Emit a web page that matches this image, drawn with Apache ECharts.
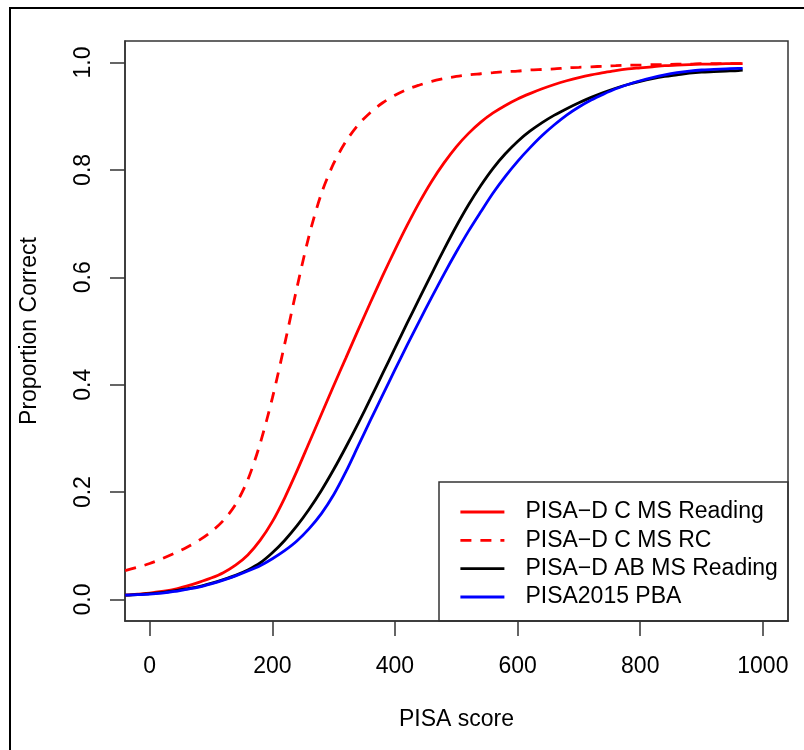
<!DOCTYPE html>
<html>
<head>
<meta charset="utf-8">
<script src="https://cdn.jsdelivr.net/npm/echarts@6/dist/echarts.min.js"></script>
<style>
html,body{margin:0;padding:0;background:#fff;}
#chart{width:804px;height:750px;}
</style>
</head>
<body>
<div id="chart"></div>
<script>
// PISA scores at which each curve was read
const scores = [-40,-20,0,20,40,60,80,100,120,140,160,180,200,220,240,260,280,300,320,340,360,380,400,420,440,460,480,500,520,540,560,580,600,620,640,660,680,700,720,740,760,780,800,820,840,860,880,900,920,940,960,967];

const cReading = [0.008,0.010,0.012,0.015,0.019,0.025,0.032,0.040,0.050,0.064,0.083,0.110,0.145,0.189,0.239,0.292,0.345,0.398,0.450,0.502,0.553,0.603,0.651,0.697,0.740,0.779,0.813,0.843,0.868,0.889,0.906,0.920,0.932,0.942,0.951,0.959,0.966,0.972,0.977,0.981,0.985,0.988,0.990,0.992,0.994,0.995,0.996,0.997,0.997,0.998,0.998,0.998];

const cRC = [0.054,0.060,0.067,0.076,0.086,0.097,0.110,0.126,0.147,0.177,0.223,0.290,0.375,0.475,0.580,0.678,0.756,0.812,0.853,0.884,0.907,0.925,0.939,0.950,0.958,0.965,0.970,0.974,0.977,0.979,0.981,0.983,0.984,0.986,0.987,0.988,0.990,0.991,0.992,0.993,0.994,0.995,0.995,0.996,0.996,0.997,0.997,0.998,0.998,0.998,0.998,0.998];

const abReading = [0.008,0.009,0.011,0.013,0.016,0.020,0.024,0.030,0.037,0.045,0.055,0.068,0.087,0.110,0.137,0.168,0.203,0.242,0.284,0.328,0.374,0.421,0.468,0.515,0.561,0.607,0.652,0.695,0.735,0.771,0.803,0.830,0.853,0.872,0.888,0.902,0.914,0.925,0.935,0.944,0.952,0.959,0.965,0.970,0.974,0.977,0.980,0.982,0.983,0.984,0.985,0.986];

const pisa2015 = [0.008,0.009,0.010,0.012,0.015,0.019,0.023,0.029,0.036,0.044,0.053,0.063,0.076,0.091,0.109,0.132,0.160,0.195,0.238,0.286,0.334,0.381,0.428,0.474,0.519,0.563,0.606,0.647,0.686,0.722,0.757,0.788,0.816,0.841,0.864,0.884,0.902,0.917,0.930,0.941,0.951,0.959,0.966,0.972,0.977,0.981,0.984,0.986,0.987,0.988,0.989,0.989];

const seriesNames = ['PISA\u2212D C MS Reading','PISA\u2212D C MS RC','PISA\u2212D AB MS Reading','PISA2015 PBA'];
const xTicks = [0,200,400,600,800,1000];
const yTicks = [0,0.2,0.4,0.6,0.8,1.0];

const FONT = '"Liberation Sans", Arial, sans-serif';
const pair = vals => scores.map((s,i)=>[s, vals[i]]);

const chart = echarts.init(document.getElementById('chart'), null, {renderer:'canvas'});

function lineSeries(name, vals, color, dashed){
  return {
    name: name,
    type: 'line',
    data: pair(vals),
    showSymbol: false,
    symbol: 'none',
    smooth: 0.3,
    clip: true,
    lineStyle: {color: color, width: 2.8, type: dashed ? [11,9] : 'solid'},
    itemStyle: {color: color},
    emphasis: {disabled: true},
    animation: false
  };
}

chart.setOption({
  animation: false,
  backgroundColor: '#fff',
  textStyle: {fontFamily: FONT},
  grid: {left:125, right:16, top:41, bottom:129, show:true, borderColor:'#333', borderWidth:1.5, backgroundColor:'transparent'},
  xAxis: {
    type: 'value', min: -40.3, max: 1041,
    name: 'PISA score', nameLocation: 'middle', nameGap: 87,
    nameTextStyle: {fontSize: 23, color:'#000', fontFamily: FONT},
    axisLine: {show:true, onZero:false, lineStyle:{color:'#333', width:1.5}},
    axisTick: {show:true, length:15, customValues: xTicks, lineStyle:{color:'#333', width:1.5}},
    axisLabel: {customValues: xTicks, fontSize:23, color:'#000', margin:34, fontFamily: FONT,
      formatter: v => String(v)},
    splitLine: {show:false}
  },
  yAxis: {
    type: 'value', min: -0.04, max: 1.04,
    name: 'Proportion Correct', nameLocation: 'middle', nameGap: 84, nameRotate: 90,
    nameTextStyle: {fontSize: 23, color:'#000', fontFamily: FONT},
    axisLine: {show:true, onZero:false, lineStyle:{color:'#333', width:1.5}},
    axisTick: {show:true, length:15, customValues: yTicks, lineStyle:{color:'#333', width:1.5}},
    axisLabel: {customValues: yTicks, rotate: 90, fontSize:23, color:'#000', margin:30, fontFamily: FONT,
      formatter: v => v.toFixed(1)},
    splitLine: {show:false}
  },
  legend: {
    orient: 'vertical', left: 459, top: 498, padding: 0, itemGap: 0.33,
    itemWidth: 44, itemHeight: 14,
    selectedMode: false,
    itemStyle: {opacity: 0},
    lineStyle: {width: 2.8},
    data: seriesNames,
    textStyle: {fontSize: 23, color:'#000', lineHeight: 28, padding:[0,0,0,16], fontFamily: FONT}
  },
  graphic: [
    {type:'rect', z:0, silent:true, shape:{x:439, y:482, width:349, height:139},
     style:{fill:'none', stroke:'#333', lineWidth:1.5}},
    {type:'rect', z:0, silent:true, shape:{x:10, y:8, width:900, height:900},
     style:{fill:'none', stroke:'#000', lineWidth:2}}
  ],
  series: [
    lineSeries(seriesNames[0], cReading, '#ff0000', false),
    lineSeries(seriesNames[1], cRC, '#ff0000', true),
    lineSeries(seriesNames[2], abReading, '#000000', false),
    lineSeries(seriesNames[3], pisa2015, '#0000ff', false)
  ]
});
</script>
</body>
</html>
